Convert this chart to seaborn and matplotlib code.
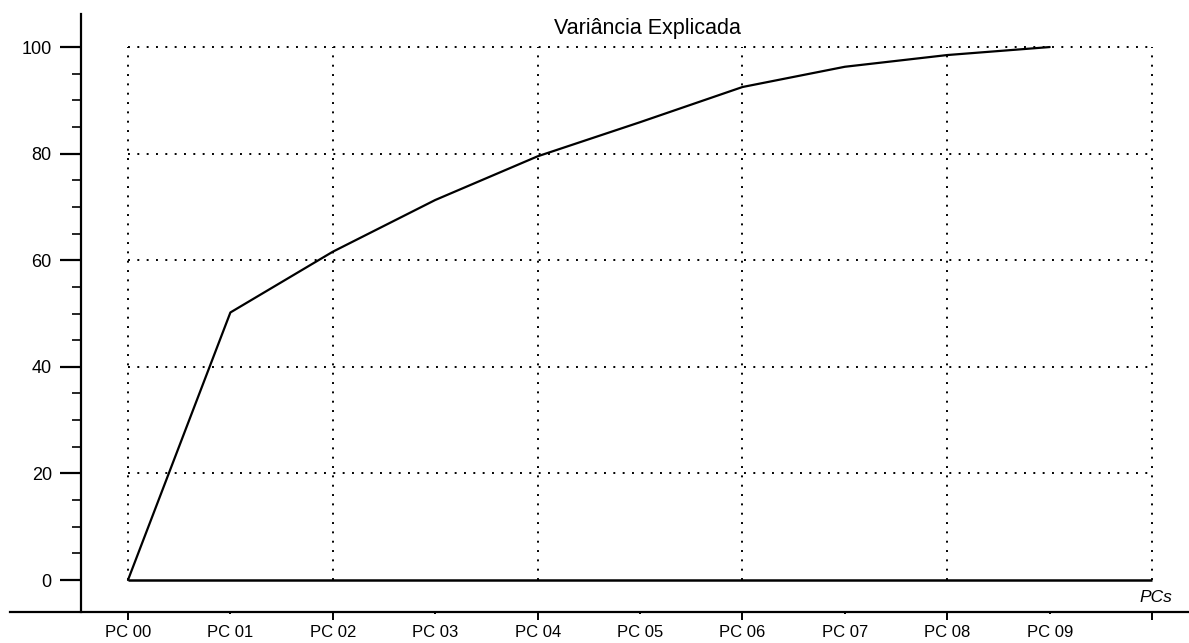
import numpy as np
import matplotlib
matplotlib.use("Agg")
import matplotlib.pyplot as plt
import seaborn as sns

# data
pc_labels = ["PC 00", "PC 01", "PC 02", "PC 03", "PC 04",
             "PC 05", "PC 06", "PC 07", "PC 08", "PC 09"]
pc_pos = np.arange(len(pc_labels))
variance = [0, 50.2, 61.6, 71.3, 79.5, 85.9, 92.5, 96.3, 98.5, 100]

y_major = [0, 20, 40, 60, 80, 100]
y_minor = [v for v in range(5, 100, 5) if v % 20]
x_major = list(range(0, 11, 2))
x_minor = list(range(1, 10, 2))

sns.set_style("white")
plt.rcParams["font.family"] = ["Liberation Sans", "DejaVu Sans"]

fig = plt.figure(figsize=(11.89, 6.43), dpi=100)
ax = fig.add_axes([10 / 1189, 1 - 612 / 643, 1179 / 1189, 598 / 643])

# dotted grid and the solid zero line
grid_kw = dict(color="black", lw=1.4, linestyle=(0, (1, 3.8)), zorder=1)
ax.vlines(x_major, 0, 100, **grid_kw)
ax.hlines(y_major[1:], 0, 10, **grid_kw)
ax.hlines(0, 0, 10, color="black", lw=1.8, zorder=2)

sns.lineplot(x=pc_pos, y=variance, color="black", lw=1.6, ax=ax, zorder=3)

ax.set_xlim(-1.152, 10.36)
ax.set_ylim(-6.0, 106.2)

for s in ["top", "right"]:
    ax.spines[s].set_visible(False)
ax.spines["left"].set_position(("data", -0.459))
for s in ["left", "bottom"]:
    ax.spines[s].set_linewidth(1.6)
    ax.spines[s].set_color("black")

ax.set_yticks(y_major)
ax.set_yticklabels([str(v) for v in y_major])
ax.set_yticks(y_minor, minor=True)
ax.tick_params(axis="y", which="major", direction="out", length=15, width=1.6,
               pad=6, labelsize=13, colors="black", left=True)
ax.tick_params(axis="y", which="minor", direction="out", length=6.5, width=1.4,
               left=True)

ax.set_xticks(x_major)
ax.set_xticklabels([pc_labels[i] if i < len(pc_labels) else "" for i in x_major])
ax.set_xticks(x_minor, minor=True)
ax.set_xticklabels([pc_labels[i] for i in x_minor], minor=True)
ax.tick_params(axis="x", which="major", direction="out", length=5.8, width=1.4,
               pad=3.5, labelsize=12, colors="black", bottom=True)
ax.tick_params(axis="x", which="minor", direction="out", length=1.5, width=1.4,
               pad=7.8, labelsize=12, colors="black", bottom=True)

ax.set_xlabel("")
ax.set_ylabel("")
ax.text(5.07, 103.4, "Variância Explicada", ha="center", va="center",
        fontsize=15.5, color="black")
ax.text(10.2, -3.2, "PCs", ha="right", va="center", fontsize=12.5,
        style="italic", color="black")

fig.savefig("out.png", dpi=100, facecolor="white")
